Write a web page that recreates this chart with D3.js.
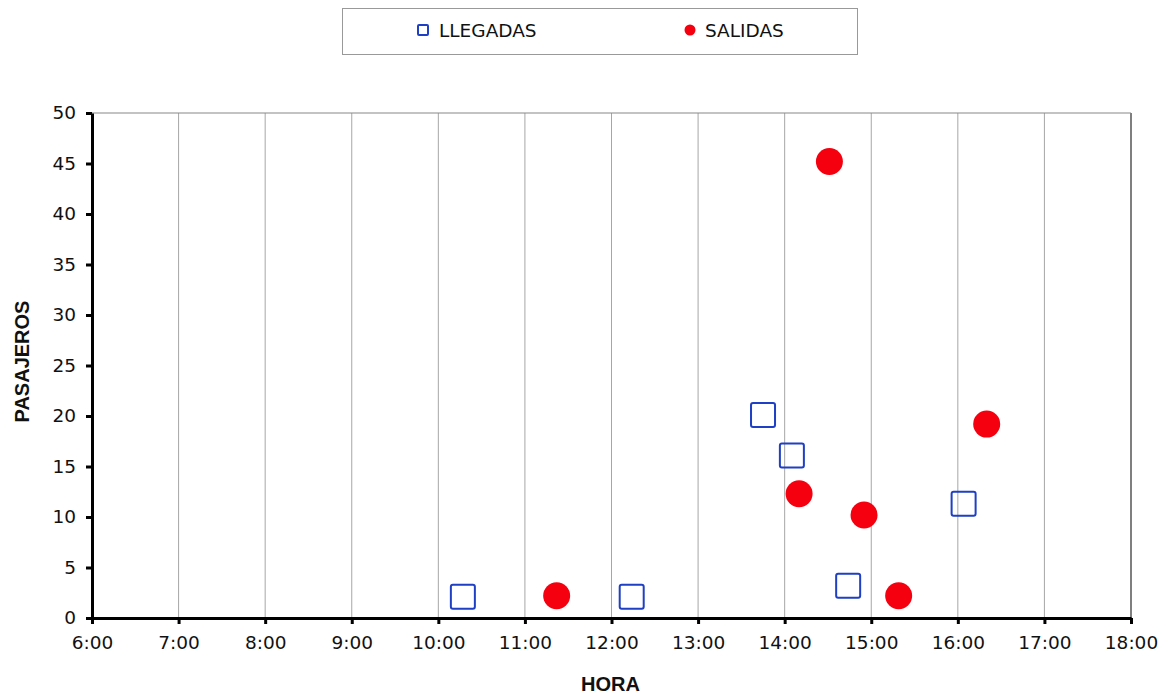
<!DOCTYPE html>
<html>
<head>
<meta charset="utf-8">
<script src="https://cdn.jsdelivr.net/npm/d3@7"></script>
<style>
  html, body { margin: 0; padding: 0; background: #fff; }
  svg { display: block; font-family: "DejaVu Sans", Verdana, sans-serif; }
</style>
</head>
<body>
<svg id="chart" width="1170" height="698"></svg>
<script>
// Data
const llegadasHora = ["10:17", "12:14", "13:45", "14:05", "14:44", "16:04"];
const llegadasPasajeros = [2.1, 2.1, 20.1, 16.1, 3.2, 11.3];
const salidasHora = ["11:22", "14:10", "14:31", "14:55", "15:19", "16:20"];
const salidasPasajeros = [2.2, 12.3, 45.2, 10.2, 2.2, 19.2];
const xTicks = ["6:00","7:00","8:00","9:00","10:00","11:00","12:00","13:00","14:00","15:00","16:00","17:00","18:00"];
const yTicks = [0, 5, 10, 15, 20, 25, 30, 35, 40, 45, 50];
const seriesNames = ["LLEGADAS", "SALIDAS"];

const toH = s => { const [h, m] = s.split(":").map(Number); return h + m / 60; };

const svg = d3.select("#chart");
const m = { left: 92, right: 1131, top: 113, bottom: 618 };

const x = d3.scaleLinear().domain([6, 18]).range([m.left, m.right]);
const y = d3.scaleLinear().domain([0, 50]).range([m.bottom, m.top]);

// vertical gridlines
svg.append("g").selectAll("line")
  .data(xTicks.slice(1).map(toH))
  .join("line")
  .attr("x1", d => x(d)).attr("x2", d => x(d))
  .attr("y1", m.top).attr("y2", m.bottom)
  .attr("stroke", d => d === 18 ? "#555" : "#a6a6a6")
  .attr("stroke-width", d => d === 18 ? 1.5 : 1);

// top border
svg.append("line")
  .attr("x1", m.left).attr("x2", m.right)
  .attr("y1", m.top).attr("y2", m.top)
  .attr("stroke", "#888").attr("stroke-width", 1.2);

// axes
const xAxis = d3.axisBottom(x)
  .tickValues(xTicks.map(toH))
  .tickFormat((d, i) => xTicks[i])
  .tickSize(6).tickSizeOuter(0).tickPadding(12);
const gx = svg.append("g").attr("transform", `translate(0,${m.bottom})`).call(xAxis);
gx.select(".domain").attr("stroke", "#000").attr("stroke-width", 3);
gx.selectAll(".tick line").attr("stroke", "#000").attr("stroke-width", 3);
gx.selectAll(".tick text").attr("font-size", 18.5).attr("fill", "#111")
  .attr("font-family", "DejaVu Sans, Verdana, sans-serif");

const yAxis = d3.axisLeft(y)
  .tickValues(yTicks)
  .tickSize(6).tickSizeOuter(0).tickPadding(10);
const gy = svg.append("g").attr("transform", `translate(${m.left},0)`).call(yAxis);
gy.select(".domain").attr("stroke", "#000").attr("stroke-width", 3);
gy.selectAll(".tick line").attr("stroke", "#000").attr("stroke-width", 3);
gy.selectAll(".tick text").attr("font-size", 18.5).attr("fill", "#111")
  .attr("font-family", "DejaVu Sans, Verdana, sans-serif");

// axis titles
svg.append("text")
  .attr("x", 610.5).attr("y", 691)
  .attr("text-anchor", "middle").attr("font-size", 20).attr("font-weight", "bold")
  .attr("font-family", "Liberation Sans, Arial, sans-serif")
  .attr("fill", "#111").text("HORA");
svg.append("text")
  .attr("transform", `translate(29,361.5) rotate(-90)`)
  .attr("text-anchor", "middle").attr("font-size", 20).attr("font-weight", "bold")
  .attr("font-family", "Liberation Sans, Arial, sans-serif")
  .attr("fill", "#111").text("PASAJEROS");

// series
const blue = "#1f3fc4", red = "#f5000f";
const sq = 24;
const lleg = llegadasHora.map((h, i) => ({ x: toH(h), y: llegadasPasajeros[i] }));
const sal = salidasHora.map((h, i) => ({ x: toH(h), y: salidasPasajeros[i] }));

svg.append("g").selectAll("rect").data(lleg).join("rect")
  .attr("x", d => x(d.x) - sq / 2).attr("y", d => y(d.y) - sq / 2)
  .attr("width", sq).attr("height", sq).attr("rx", 2)
  .attr("fill", "none").attr("stroke", blue).attr("stroke-width", 2);

svg.append("g").selectAll("circle").data(sal).join("circle")
  .attr("cx", d => x(d.x)).attr("cy", d => y(d.y)).attr("r", 13.5)
  .attr("fill", red);

// legend
const lg = svg.append("g");
lg.append("rect").attr("x", 342.5).attr("y", 8.5).attr("width", 515).attr("height", 46)
  .attr("fill", "#fff").attr("stroke", "#999").attr("stroke-width", 1);
lg.append("rect").attr("x", 418).attr("y", 25).attr("width", 10).attr("height", 10).attr("rx", 1)
  .attr("fill", "none").attr("stroke", blue).attr("stroke-width", 2);
lg.append("text").attr("x", 439).attr("y", 37).attr("font-size", 18.5).attr("fill", "#111").text(seriesNames[0]);
lg.append("circle").attr("cx", 690).attr("cy", 30).attr("r", 5.5).attr("fill", red);
lg.append("text").attr("x", 705).attr("y", 37).attr("font-size", 18.5).attr("fill", "#111").text(seriesNames[1]);
</script>
</body>
</html>
